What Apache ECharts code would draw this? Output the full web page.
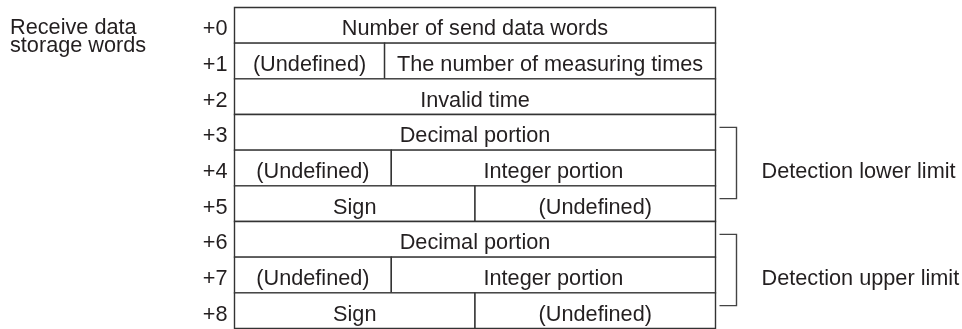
<!DOCTYPE html>
<html>
<head>
<meta charset="utf-8">
<script src="https://cdn.jsdelivr.net/npm/echarts@6/dist/echarts.min.js"></script>
<style>
html,body{margin:0;padding:0;background:#fff;}
#chart{width:962px;height:329px;}
</style>
</head>
<body>
<div id="chart"></div>
<script>
// Row (word offset) labels
const rowLabels = ['+0', '+1', '+2', '+3', '+4', '+5', '+6', '+7', '+8'];
// Cells: [row, start (% of word width), end (% of word width), text]
const cells = [
  [0, 0, 100, 'Number of send data words'],
  [1, 0, 31.2, '(Undefined)'],
  [1, 31.2, 100, 'The number of measuring times'],
  [2, 0, 100, 'Invalid time'],
  [3, 0, 100, 'Decimal portion'],
  [4, 0, 32.6, '(Undefined)'],
  [4, 32.6, 100, 'Integer portion'],
  [5, 0, 50, 'Sign'],
  [5, 50, 100, '(Undefined)'],
  [6, 0, 100, 'Decimal portion'],
  [7, 0, 32.6, '(Undefined)'],
  [7, 32.6, 100, 'Integer portion'],
  [8, 0, 50, 'Sign'],
  [8, 50, 100, '(Undefined)']
];
// Brackets: [first row, last row]
const brackets = [[3, 5], [6, 8]];
const bracketLabels = ['Detection lower limit', 'Detection upper limit'];
const sideTitle = 'Receive data\nstorage words';

const FONT = '"Liberation Sans", Arial, Helvetica, sans-serif';
const TXT = '#231f20';
const LINE = '#333333';
const FS = 21.7;
const DY = 4;

const chart = echarts.init(document.getElementById('chart'), null, {renderer: 'canvas'});
chart.setOption({
  backgroundColor: '#ffffff',
  animation: false,
  title: {
    text: sideTitle,
    left: 10,
    top: 19,
    padding: 0,
    textStyle: {fontFamily: FONT, fontSize: FS, fontWeight: 'normal', color: TXT, lineHeight: 18}
  },
  grid: {left: 234.5, right: 246.5, top: 7.5, bottom: 0.5, containLabel: false},
  xAxis: {type: 'value', min: 0, max: 100, show: false},
  yAxis: {
    type: 'category',
    data: rowLabels,
    inverse: true,
    axisLine: {show: false},
    axisTick: {show: false},
    splitLine: {show: false},
    axisLabel: {show: false}
  },
  series: [
    {
      // row offset labels, placed on the category axis
      type: 'custom',
      clip: false,
      data: rowLabels.map((l, i) => [i]),
      encode: {y: 0},
      renderItem: function (params, api) {
        const p = api.coord([0, api.value(0)]);
        return {
          type: 'text',
          style: {
            text: rowLabels[params.dataIndex],
            x: p[0] - 7, y: p[1] + DY,
            align: 'right', verticalAlign: 'middle',
            fontFamily: FONT, fontSize: FS, fill: TXT
          }
        };
      }
    },
    {
      type: 'custom',
      clip: false,
      data: cells.map(c => [c[0], c[1], c[2]]),
      encode: {x: [1, 2], y: 0},
      renderItem: function (params, api) {
        const r = api.value(0), x0 = api.value(1), x1 = api.value(2);
        const p0 = api.coord([x0, r]);
        const p1 = api.coord([x1, r]);
        const h = api.size([0, 1])[1];
        return {
          type: 'group',
          children: [
            {
              type: 'rect',
              shape: {x: p0[0], y: p0[1] - h / 2, width: p1[0] - p0[0], height: h},
              style: {fill: '#ffffff', stroke: LINE, lineWidth: 1.4}
            },
            {
              type: 'text',
              style: {
                text: cells[params.dataIndex][3],
                x: (p0[0] + p1[0]) / 2, y: p0[1] + DY,
                align: 'center', verticalAlign: 'middle',
                fontFamily: FONT, fontSize: FS, fill: TXT
              }
            }
          ]
        };
      }
    },
    {
      type: 'custom',
      clip: false,
      data: brackets,
      encode: {y: [0, 1]},
      renderItem: function (params, api) {
        const a = api.value(0), b = api.value(1);
        const h = api.size([0, 1])[1];
        const pa = api.coord([100, a]);
        const pb = api.coord([100, b]);
        const pm = api.coord([100, (a + b) / 2]);
        const xl = pa[0] + 4, xr = pa[0] + 21;
        const top = pa[1] - 0.14 * h, bot = pb[1] - 0.14 * h;
        return {
          type: 'group',
          children: [
            {
              type: 'polyline',
              shape: {points: [[xl, top], [xr, top], [xr, bot], [xl, bot]]},
              style: {stroke: '#444444', lineWidth: 1.4, fill: null}
            },
            {
              type: 'text',
              style: {
                text: bracketLabels[params.dataIndex],
                x: xr + 25, y: pm[1] + DY,
                align: 'left', verticalAlign: 'middle',
                fontFamily: FONT, fontSize: FS, fill: TXT
              }
            }
          ]
        };
      }
    }
  ]
});
</script>
</body>
</html>
